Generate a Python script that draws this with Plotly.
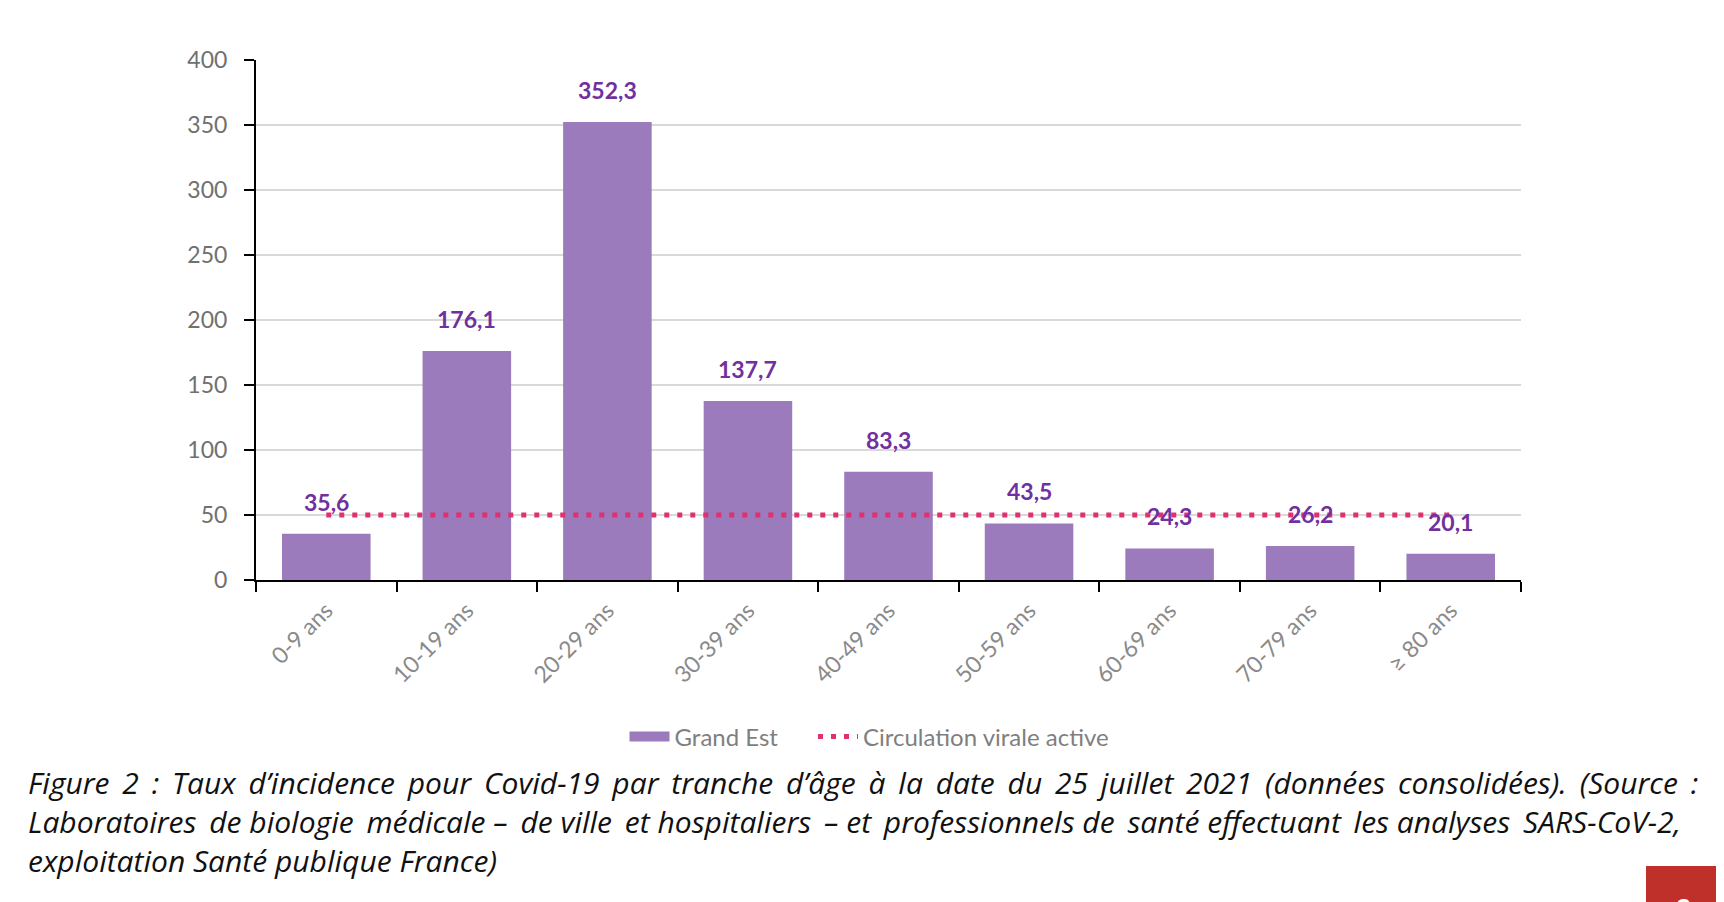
import plotly.graph_objects as go

categories = ["0-9 ans", "10-19 ans", "20-29 ans", "30-39 ans", "40-49 ans",
              "50-59 ans", "60-69 ans", "70-79 ans", "≥ 80 ans"]
incidence = [35.6, 176.1, 352.3, 137.7, 83.3, 43.5, 24.3, 26.2, 20.1]
seuil = [50] * len(categories)
y_ticks = [0, 50, 100, 150, 200, 250, 300, 350, 400]

caption_lines = [
    "Figure 2 : Taux d’incidence pour Covid-19 par tranche d’âge à la date du 25 juillet 2021 (données consolidées). (Source :",
    "Laboratoires de biologie médicale – de ville et hospitaliers – et professionnels de santé effectuant les analyses SARS-CoV-2,",
    "exploitation Santé publique France)",
]
# every n-th space gets an extra six-per-em space to imitate the justified paragraph
caption_pad_every = [1, 2, 0]

W, H = 1716, 894
L, R, T, B = 248, 203, 52, 322
pw, ph = W - L - R, H - T - B

def px2x(px):
    return (px - L) / pw

def px2y(py):
    return (H - B - py) / ph

def justify(line, every):
    if not every:
        return line
    words = line.split(" ")
    out = words[0]
    for k, w in enumerate(words[1:]):
        sep = " \u2006" if k % every == 0 else " "
        out += sep + w
    return out

PURPLE = "#9b7bbb"
PINK = "#e0306e"

fig = go.Figure()
fig.add_trace(go.Bar(
    x=categories, y=incidence, name="Grand Est", showlegend=False,
    marker=dict(color=PURPLE, line=dict(width=0)),
))
# legend swatch for the bars (wide rectangle like the original)
fig.add_trace(go.Scatter(
    x=[None], y=[None], name="Grand Est\u2003\u2002", mode="lines",
    line=dict(color=PURPLE, width=16),
))
fig.add_trace(go.Scatter(
    x=categories, y=seuil, name="Circulation virale active", mode="lines",
    line=dict(color=PINK, width=5, dash="5px,8px"),
))

annotations = []
for c, v in zip(categories, incidence):
    annotations.append(dict(
        x=c, y=v, xref="x", yref="y", text=f"{v:.1f}".replace(".", ","),
        showarrow=False, yanchor="bottom", yshift=16,
        font=dict(color="#7030a0", size=23, family="Lato", weight="bold"),
    ))
for i, line in enumerate(caption_lines):
    annotations.append(dict(
        text=justify(line, caption_pad_every[i]), xref="paper", yref="paper",
        x=px2x(18), y=px2y(774 + i * 39.5),
        xanchor="left", yanchor="middle", showarrow=False,
        font=dict(family="Open Sans", size=30, color="#111111", style="italic"),
    ))
annotations.append(dict(
    text="2", xref="paper", yref="paper", x=px2x(1676), y=px2y(898),
    xanchor="center", yanchor="middle", showarrow=False,
    font=dict(family="Open Sans", size=24, color="white", weight="bold"),
))

fig.update_layout(
    width=W, height=H,
    margin=dict(l=L, r=R, t=T, b=B, autoexpand=False),
    paper_bgcolor="white", plot_bgcolor="white",
    separators=", ",
    bargap=0.37,
    showlegend=True,
    legend=dict(orientation="h", x=0.485, xanchor="center", y=px2y(729), yanchor="middle",
                font=dict(family="Lato", size=24, color="#7f7f7f"),
                itemwidth=40, traceorder="normal"),
    xaxis=dict(
        type="category", showline=True, linecolor="black", linewidth=2,
        ticks="outside", tickson="boundaries", ticklen=10, tickwidth=2, tickcolor="black",
        tickangle=-45, tickfont=dict(family="Lato", size=23, color="#8a8a8a"),
        ticklabelstandoff=6, showgrid=False,
    ),
    yaxis=dict(
        range=[0, 400], tickvals=y_ticks, showline=True, linecolor="black", linewidth=2,
        ticks="outside", ticklen=10, tickwidth=2, tickcolor="black",
        tickfont=dict(family="Lato", size=23, color="#707070"),
        ticklabelstandoff=12,
        showgrid=True, gridcolor="#d9d9d9", gridwidth=1.5, zeroline=False,
    ),
    shapes=[dict(type="rect", xref="paper", yref="paper",
                 x0=px2x(1638), x1=px2x(1718), y0=px2y(858), y1=px2y(896),
                 fillcolor="#c0302b", line=dict(width=0), layer="above")],
    annotations=annotations,
)

fig.write_html("out.html")
